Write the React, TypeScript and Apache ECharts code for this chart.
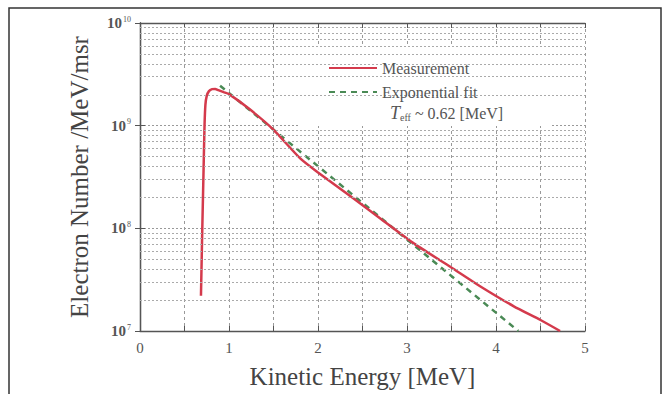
import React, { useEffect, useRef } from "react";
import * as echarts from "echarts";

// Measured electron spectrum (Kinetic energy in MeV, electrons / MeV / msr)
const energyMeas = [
  0.685, 0.7, 0.715, 0.725, 0.735, 0.75, 0.775, 0.81, 0.845, 0.88, 0.94, 1.0,
  1.23, 1.49, 1.8, 2.0, 2.4, 2.7, 3.08, 3.49, 3.83, 4.2, 4.5, 4.72,
];
const countsMeas = [
  2.2e7, 1.0e8, 4.0e8, 1.0e9, 1.6e9, 1.95e9, 2.17e9, 2.27e9, 2.28e9, 2.22e9,
  2.12e9, 2.03e9, 1.45e9, 9.3e8, 4.8e8, 3.5e8, 1.95e8, 1.25e8, 7.1e7, 4.2e7,
  2.7e7, 1.74e7, 1.28e7, 1.0e7,
];

// Exponential fit (straight line on log scale), end points
const energyFit = [0.9, 4.25];
const countsFit = [2.45e9, 1.0e7];

// Log-grid minor lines
const decades = [1e7, 1e8, 1e9];
const minorMultipliers = [2, 3, 4, 5, 6, 7, 8, 9];

const seriesNames = ["Measurement", "Exponential fit"];

export default function App() {
  const ref = useRef<HTMLDivElement>(null);
  useEffect(() => {
    const chart = echarts.init(ref.current!, null, { renderer: "svg" });
    const font = "'Liberation Serif', 'Times New Roman', serif";
    const minorLines = decades.flatMap((d) =>
      minorMultipliers.map((m) => ({ yAxis: d * m }))
    );
    const axisColor = "#555";
    chart.setOption({
      animation: false,
      backgroundColor: "#fff",
      grid: { left: 140, right: 82, top: 23, bottom: 59 },
      legend: {
        data: seriesNames,
        orient: "vertical",
        left: 323,
        top: 55,
        itemWidth: 48,
        itemHeight: 14,
        itemGap: 8,
        z: 10,
        itemStyle: { opacity: 0 },
        textStyle: { fontSize: 16, fontFamily: font, color: "#555" },
      },
      xAxis: [
        {
          type: "value",
          min: 0,
          max: 5,
          interval: 0.5,
          position: "bottom",
          name: "Kinetic Energy [MeV]",
          nameLocation: "middle",
          nameGap: 33,
          nameTextStyle: { fontSize: 25, fontFamily: font, color: "#444" },
          axisLine: { show: true, onZero: false, lineStyle: { color: axisColor, width: 1.3 } },
          axisTick: { show: true, inside: true, length: 5, lineStyle: { color: axisColor } },
          axisLabel: {
            formatter: (v: number) => (Number.isInteger(v) ? String(v) : ""),
            fontSize: 15,
            fontFamily: font,
            color: "#555",
            margin: 9,
          },
          splitLine: { show: true, lineStyle: { type: [3, 3], color: "#999", width: 1 } },
        },
        {
          type: "value",
          min: 0,
          max: 5,
          interval: 0.5,
          position: "top",
          axisLine: { show: true, lineStyle: { color: axisColor, width: 1.3 } },
          axisTick: { show: true, inside: true, length: 5, lineStyle: { color: axisColor } },
          axisLabel: { show: false },
          splitLine: { show: false },
        },
      ],
      yAxis: [
        {
          type: "log",
          logBase: 10,
          min: 1e7,
          max: 1e10,
          position: "left",
          name: "Electron Number /MeV/msr",
          nameLocation: "middle",
          nameGap: 48,
          nameTextStyle: { fontSize: 25, fontFamily: font, color: "#444" },
          axisLine: { show: true, lineStyle: { color: axisColor, width: 1.3 } },
          axisTick: { show: true, inside: true, length: 5, lineStyle: { color: axisColor } },
          axisLabel: {
            margin: 9,
            formatter: (v: number) => `{b|10}{s|${Math.round(Math.log10(v))}}`,
            rich: {
              b: { fontSize: 15, fontFamily: font, color: "#555", fontWeight: "bold" },
              s: { fontSize: 8, fontFamily: font, color: "#555", verticalAlign: "top", padding: [0, 0, 8, 1] },
            },
          },
          splitLine: { show: true, lineStyle: { type: [2, 2], color: "#999", width: 1 } },
        },
        {
          type: "log",
          logBase: 10,
          min: 1e7,
          max: 1e10,
          position: "right",
          axisLine: { show: true, lineStyle: { color: axisColor, width: 1.3 } },
          axisTick: { show: true, inside: true, length: 5, lineStyle: { color: axisColor } },
          axisLabel: { show: false },
          splitLine: { show: false },
        },
      ],
      series: [
        {
          name: "minor-grid",
          type: "line",
          data: [],
          z: 1,
          silent: true,
          markLine: {
            silent: true,
            symbol: ["none", "none"],
            label: { show: false },
            lineStyle: { type: [2, 2], color: "#aaa", width: 1 },
            data: minorLines,
          },
        },
        {
          name: seriesNames[0],
          type: "line",
          data: energyMeas.map((e, i) => [e, countsMeas[i]]),
          symbol: "none",
          smooth: 0.2,
          z: 4,
          lineStyle: { color: "#d43a4c", width: 2.5 },
          itemStyle: { color: "#d43a4c" },
        },
        {
          name: seriesNames[1],
          type: "line",
          data: energyFit.map((e, i) => [e, countsFit[i]]),
          symbol: "none",
          z: 3,
          lineStyle: { color: "#4a8a55", width: 2.5, type: [6, 5] },
          itemStyle: { color: "#4a8a55" },
        },
      ],
      graphic: [
        {
          type: "rect",
          z: 5,
          silent: true,
          shape: { x: 300, y: 46, width: 250, height: 80 },
          style: { fill: "#fff" },
        },
        {
          type: "text",
          z: 11,
          x: 390,
          y: 113,
          style: {
            text: "{i|T}{sub|eff}{n| ~ 0.62 [MeV]}",
            verticalAlign: "middle",
            rich: {
              i: { fontStyle: "italic", fontSize: 18, fontFamily: font, fill: "#555", color: "#555" },
              sub: { fontSize: 10, fontFamily: font, fill: "#555", color: "#555", verticalAlign: "bottom" },
              n: { fontSize: 16, fontFamily: font, fill: "#555", color: "#555" },
            },
          },
        },
        {
          type: "rect",
          z: 20,
          silent: true,
          shape: { x: 9, y: 8, width: 652, height: 400 },
          style: { fill: "none", stroke: "#333", lineWidth: 1.5 },
        },
      ],
    });
    return () => chart.dispose();
  }, []);
  return (
    <div
      ref={ref}
      style={{ position: "fixed", left: 0, top: 0, width: 667, height: 394, background: "#fff" }}
    />
  );
}
